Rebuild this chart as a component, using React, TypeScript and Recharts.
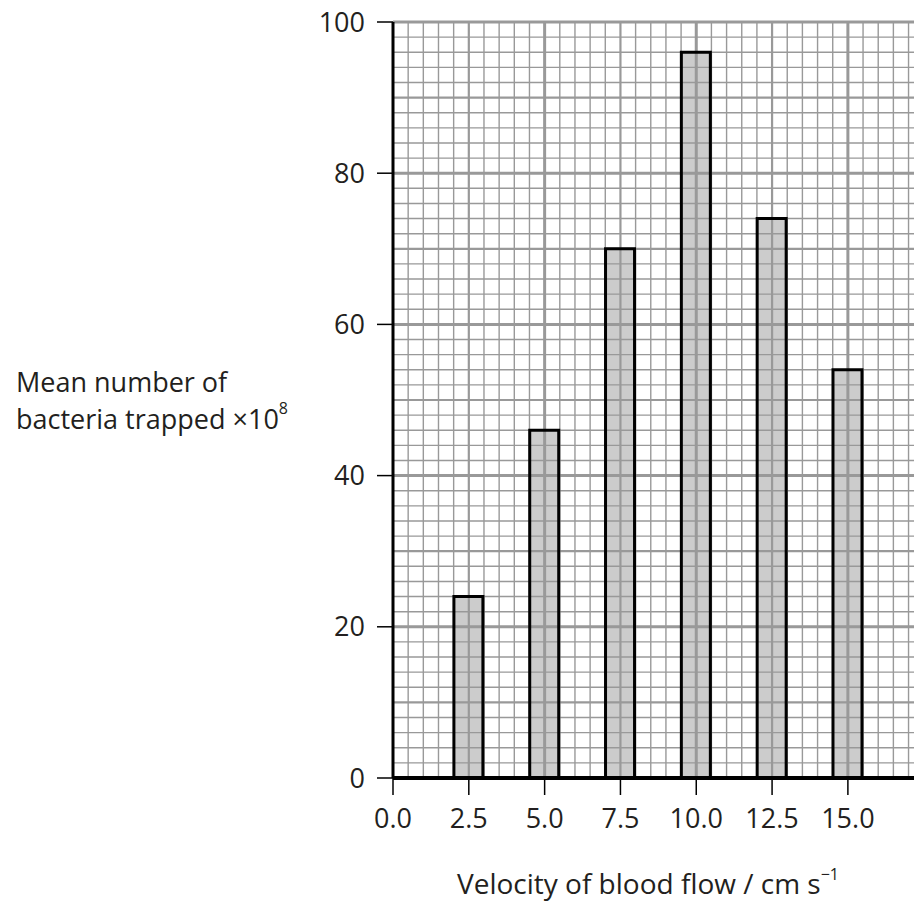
import React from "react";
import { ComposedChart, Bar, XAxis, YAxis, ReferenceLine } from "recharts";

const categories = [2.5, 5.0, 7.5, 10.0, 12.5, 15.0];
const bacteria = [24, 46, 70, 96, 74, 54];
const xTicks = [0, 2.5, 5.0, 7.5, 10.0, 12.5, 15.0];
const yTicks = [0, 20, 40, 60, 80, 100];

const data = categories.map((v, i) => ({ velocity: v, bacteria: bacteria[i] }));

const X_MAX = 17.18;
const GRID = "#999999";
const FONT = "'Open Sans', sans-serif";
const TEXT = "#231f20";
const W = 914;
const H = 903;
const MARGIN = { top: 22, right: 0, bottom: 65, left: 0 };

// graph-paper rulings: minor every 0.5 / 2, medium every 2.5 / 10, major every 5 / 20
const xGrid: { v: number; w: number }[] = [];
for (let i = 1; i <= 34; i++) xGrid.push({ v: i * 0.5, w: i % 10 === 0 ? 3 : i % 5 === 0 ? 2.2 : 1.4 });
const yGrid: { v: number; w: number }[] = [];
for (let j = 1; j <= 50; j++) yGrid.push({ v: j * 2, w: j % 10 === 0 ? 3 : j % 5 === 0 ? 2.2 : 1.4 });

function Axes({ visible }: { visible: boolean }) {
  return [
    <XAxis
      key="x"
      dataKey="velocity"
      type="number"
      domain={[0, X_MAX]}
      ticks={xTicks}
      interval={0}
      allowDataOverflow
      tickFormatter={(v: number) => v.toFixed(1)}
      height={60}
      tickSize={17}
      tickMargin={14}
      axisLine={visible ? { stroke: "#000", strokeWidth: 4 } : false}
      tickLine={visible ? { stroke: "#000", strokeWidth: 1.5 } : false}
      tick={visible ? { fill: TEXT, fontSize: 27, fontFamily: FONT } : false}
    />,
    <YAxis
      key="y"
      type="number"
      domain={[0, 100]}
      ticks={yTicks}
      interval={0}
      width={393}
      tickSize={16}
      tickMargin={12}
      axisLine={visible ? { stroke: "#000", strokeWidth: 3 } : false}
      tickLine={visible ? { stroke: "#000", strokeWidth: 1.5 } : false}
      tick={visible ? { fill: TEXT, fontSize: 27, fontFamily: FONT } : false}
    />,
  ];
}

const supStyle: React.CSSProperties = { fontSize: 16, verticalAlign: "top", position: "relative", top: -3, lineHeight: "16px" };

export default function App() {
  return (
    <div style={{ position: "absolute", left: 0, top: 0, width: W, height: H, background: "#fff", fontFamily: FONT, color: TEXT, overflow: "hidden" }}>
      {/* layer 1: bar fills + graph-paper grid */}
      <div style={{ position: "absolute", left: 0, top: 0 }}>
        <ComposedChart width={W} height={H} data={data} margin={MARGIN}>
          {Axes({ visible: false })}
          <Bar dataKey="bacteria" barSize={29} fill="#cccccc" stroke="none" isAnimationActive={false} />
          {xGrid.map((g) => (
            <ReferenceLine key={"x" + g.v} x={g.v} stroke={GRID} strokeWidth={g.w} />
          ))}
          {yGrid.map((g) => (
            <ReferenceLine key={"y" + g.v} y={g.v} stroke={GRID} strokeWidth={g.w} />
          ))}
        </ComposedChart>
      </div>
      {/* layer 2: axes + bar outlines on top of the grid */}
      <div style={{ position: "absolute", left: 0, top: 0 }}>
        <ComposedChart width={W} height={H} data={data} margin={MARGIN}>
          {Axes({ visible: true })}
          <Bar dataKey="bacteria" barSize={29} fill="none" stroke="#000" strokeWidth={3} isAnimationActive={false} />
        </ComposedChart>
      </div>
      <div style={{ position: "absolute", left: 16, top: 366, fontSize: 27, lineHeight: "32px", height: 32, whiteSpace: "nowrap" }}>
        Mean number of
      </div>
      <div style={{ position: "absolute", left: 16, top: 403, fontSize: 27, lineHeight: "32px", height: 32, whiteSpace: "nowrap" }}>
        bacteria trapped ×10<sup style={supStyle}>8</sup>
      </div>
      <div style={{ position: "absolute", left: 398, width: 500, top: 869, textAlign: "center", fontSize: 28, lineHeight: "28px", height: 28, whiteSpace: "nowrap" }}>
        Velocity of blood flow / cm s<sup style={supStyle}>−1</sup>
      </div>
    </div>
  );
}
